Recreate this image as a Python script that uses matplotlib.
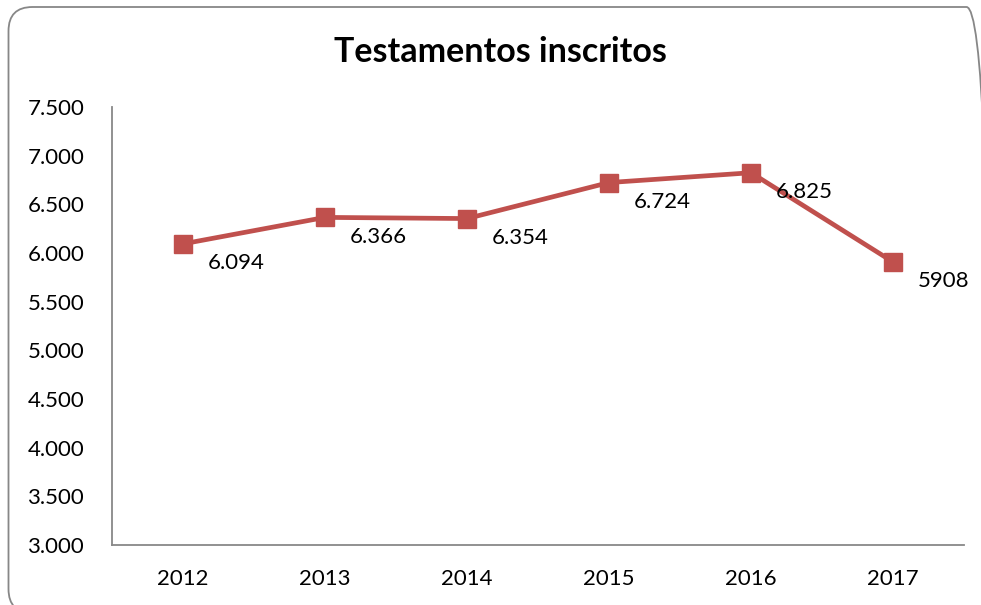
import matplotlib.pyplot as plt
from matplotlib.patches import FancyBboxPatch
from matplotlib.transforms import IdentityTransform

years = ["2012", "2013", "2014", "2015", "2016", "2017"]
values = [6094, 6366, 6354, 6724, 6825, 5908]
value_labels = ["6.094", "6.366", "6.354", "6.724", "6.825", "5908"]
y_ticks = [3000, 3500, 4000, 4500, 5000, 5500, 6000, 6500, 7000, 7500]

plt.rcParams['font.family'] = ['Lato', 'DejaVu Sans']

fig = plt.figure(figsize=(9.81, 6.05), dpi=100)
ax = fig.add_axes([0.1142, 0.0992, 0.8685, 0.7239])

# rounded chart-area border (runs off the right and bottom edges), in pixels
border = FancyBboxPatch((8.5, -8), 982, 606, boxstyle="round,pad=0,rounding_size=24",
                        transform=IdentityTransform(), fill=False,
                        edgecolor='#878787', linewidth=1.3)
fig.patches.append(border)

x = list(range(len(years)))
ax.plot(x, values, color='#C0504D', linewidth=3.4, marker='s', markersize=13.5,
        markerfacecolor='#C0504D', markeredgecolor='#C0504D')

for xi, v, lab in zip(x, values, value_labels):
    ax.annotate(lab, (xi, v), xytext=(18, -14), textcoords='offset points',
                ha='left', va='center', fontsize=16, color='black')

ax.set_xlim(-0.5, 5.5)
ax.set_ylim(3000, 7500)
ax.set_xticks(x)
ax.set_xticklabels(years)
ax.set_yticks(y_ticks)
ax.set_yticklabels([f"{t:,}".replace(",", ".") for t in y_ticks])
ax.tick_params(length=0, labelsize=16)
ax.tick_params(axis='y', pad=20)
ax.tick_params(axis='x', pad=17)

for s in ['top', 'right']:
    ax.spines[s].set_visible(False)
for s in ['left', 'bottom']:
    ax.spines[s].set_color('#888888')
    ax.spines[s].set_linewidth(1.3)

fig.text(0.510, 0.914, "Testamentos inscritos", ha='center', va='center',
         fontsize=24.5, fontweight='bold')

fig.savefig("out.png", dpi=100)
